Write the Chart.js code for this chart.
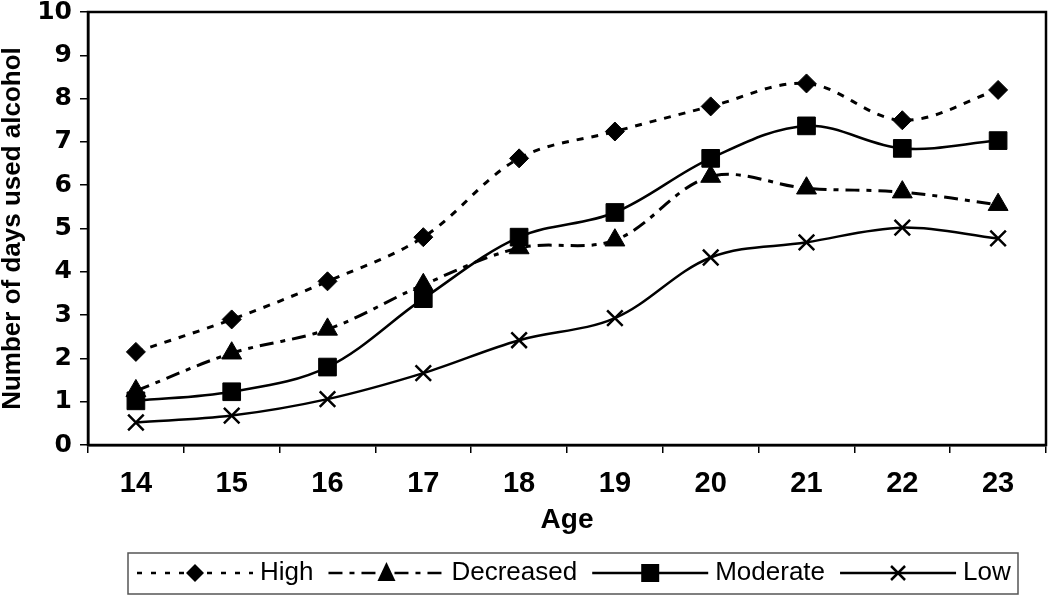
<!DOCTYPE html>
<html>
<head>
<meta charset="utf-8">
<script src="https://cdn.jsdelivr.net/npm/chart.js@4/dist/chart.umd.min.js"></script>
<style>
  body { margin: 0; background: #fff; }
  #wrap { width: 1050px; height: 595px; }
</style>
</head>
<body>
<div id="wrap"><canvas id="chart-line" width="1050" height="595"></canvas></div>
<script>
// ages on the x axis
var ages = ["14", "15", "16", "17", "18", "19", "20", "21", "22", "23"];

// mean number of days used alcohol, per trajectory group
var highData = [2.15, 2.9, 3.78, 4.8, 6.62, 7.24, 7.82, 8.35, 7.5, 8.2];
var decreasedData = [1.25, 2.12, 2.67, 3.7, 4.55, 4.73, 6.2, 5.93, 5.84, 5.55];
var moderateData = [1.02, 1.23, 1.8, 3.38, 4.8, 5.37, 6.62, 7.37, 6.85, 7.03];
var lowData = [0.52, 0.68, 1.06, 1.66, 2.42, 2.93, 4.33, 4.68, 5.02, 4.77];

var yTicks = [0, 1, 2, 3, 4, 5, 6, 7, 8, 9, 10];

var ctx = document.getElementById("chart-line").getContext("2d");

// legend entries : line dash + marker
var legendItems = [
  { text: "High", dash: [5, 9], marker: "diamond" },
  { text: "Decreased", dash: [14, 7, 5, 7], marker: "triangle" },
  { text: "Moderate", dash: [], marker: "square" },
  { text: "Low", dash: [], marker: "cross" },
];

function drawMarker(c, kind, x, y) {
  c.save();
  c.setLineDash([]);
  c.fillStyle = "#000";
  c.strokeStyle = "#000";
  c.beginPath();
  if (kind == "diamond") {
    c.moveTo(x, y - 9); c.lineTo(x + 9, y); c.lineTo(x, y + 9); c.lineTo(x - 9, y);
    c.closePath(); c.fill();
  } else if (kind == "triangle") {
    c.moveTo(x, y - 11); c.lineTo(x + 9, y + 8); c.lineTo(x - 9, y + 8);
    c.closePath(); c.fill();
  } else if (kind == "square") {
    c.rect(x - 9, y - 9, 18, 18); c.fill();
  } else {
    c.lineWidth = 2.5;
    c.moveTo(x - 7, y - 7); c.lineTo(x + 7, y + 7);
    c.moveTo(x + 7, y - 7); c.lineTo(x - 7, y + 7);
    c.stroke();
  }
  c.restore();
}

// box round the plot + the boxed legend at the bottom
var framePlugin = {
  id: "frame",
  afterDraw: function (chart) {
    var c = chart.ctx;
    var a = chart.chartArea;
    c.save();
    c.strokeStyle = "#000";
    c.lineWidth = 2.5;
    c.strokeRect(a.left, a.top, a.right - a.left, a.bottom - a.top);

    // legend
    c.lineWidth = 1.5;
    c.strokeStyle = "#555";
    c.strokeRect(128, 553, 890, 41);
    c.font = "26px 'Liberation Sans', Arial, sans-serif";
    c.textBaseline = "middle";
    c.fillStyle = "#000";
    var x = 137;
    var y = 573;
    legendItems.forEach(function (it) {
      c.strokeStyle = "#000";
      c.lineWidth = 2.5;
      c.setLineDash(it.dash);
      c.beginPath();
      c.moveTo(x, y);
      c.lineTo(x + 116, y);
      c.stroke();
      drawMarker(c, it.marker, x + 58, y);
      c.setLineDash([]);
      c.fillText(it.text, x + 123, y);
      x = x + 123 + c.measureText(it.text).width + 15;
    });
    c.restore();
  }
};

function noPad(s) {
  s.paddingTop = 0;
  s.paddingBottom = 0;
  s.paddingLeft = 0;
  s.paddingRight = 0;
}

new Chart(ctx, {
  type: "line",
  data: {
    labels: ages,
    datasets: [
      {
        label: "High",
        data: highData,
        tension: 0.35,
        borderColor: "#000",
        borderWidth: 3,
        borderDash: [7, 8],
        pointStyle: "rectRot",
        pointRadius: 9.5,
        pointBackgroundColor: "#000",
        pointBorderColor: "#000",
        pointBorderWidth: 1,
        fill: false,
      },
      {
        label: "Decreased",
        data: decreasedData,
        tension: 0.35,
        borderColor: "#000",
        borderWidth: 3,
        borderDash: [14, 7, 5, 7],
        pointStyle: "triangle",
        pointRadius: 11.5,
        pointBackgroundColor: "#000",
        pointBorderColor: "#000",
        pointBorderWidth: 1,
        fill: false,
      },
      {
        label: "Moderate",
        data: moderateData,
        tension: 0.35,
        borderColor: "#000",
        borderWidth: 2.5,
        pointStyle: "rect",
        pointRadius: 12.5,
        pointBackgroundColor: "#000",
        pointBorderColor: "#000",
        pointBorderWidth: 1,
        fill: false,
      },
      {
        label: "Low",
        data: lowData,
        tension: 0.35,
        borderColor: "#000",
        borderWidth: 2.5,
        pointStyle: "crossRot",
        pointRadius: 11,
        pointBorderColor: "#000",
        pointBorderWidth: 2.5,
        fill: false,
      },
    ],
  },
  options: {
    responsive: false,
    animation: false,
    layout: {
      autoPadding: false,
      padding: { top: 12, right: 4, bottom: 58, left: 0 },
    },
    plugins: {
      legend: { display: false },
      tooltip: { enabled: false },
    },
    scales: {
      x: {
        offset: true,
        grid: {
          offset: true,
          drawOnChartArea: false,
          drawTicks: true,
          tickLength: 8,
          color: "#000",
          lineWidth: 1.5,
        },
        border: { display: true, color: "#000", width: 2.5 },
        ticks: {
          color: "#000",
          padding: 14,
          font: { size: 29, weight: "bold", family: "'Liberation Sans', Arial, sans-serif" },
        },
        title: {
          display: true,
          text: "Age",
          color: "#000",
          padding: { top: 0, bottom: 0 },
          font: { size: 28, weight: "bold", family: "'Liberation Sans', Arial, sans-serif" },
        },
        afterFit: function (s) { s.height = 92; noPad(s); },
      },
      y: {
        min: 0,
        max: 10,
        afterBuildTicks: function (s) {
          s.ticks = yTicks.map(function (v) { return { value: v }; });
        },
        grid: {
          drawOnChartArea: false,
          drawTicks: true,
          tickLength: 8,
          color: "#000",
          lineWidth: 1.5,
        },
        border: { display: true, color: "#000", width: 2.5 },
        ticks: {
          color: "#000",
          padding: 8,
          font: { size: 25, weight: "bold", family: "'DejaVu Sans', sans-serif", lineHeight: 1 },
        },
        title: {
          display: true,
          text: "Number of days used alcohol",
          color: "#000",
          padding: { top: -3, bottom: 0 },
          font: { size: 26, weight: "bold", family: "'Liberation Sans', Arial, sans-serif" },
        },
        afterFit: function (s) { s.width = 88; noPad(s); },
      },
    },
  },
  plugins: [framePlugin],
});
</script>
</body>
</html>
